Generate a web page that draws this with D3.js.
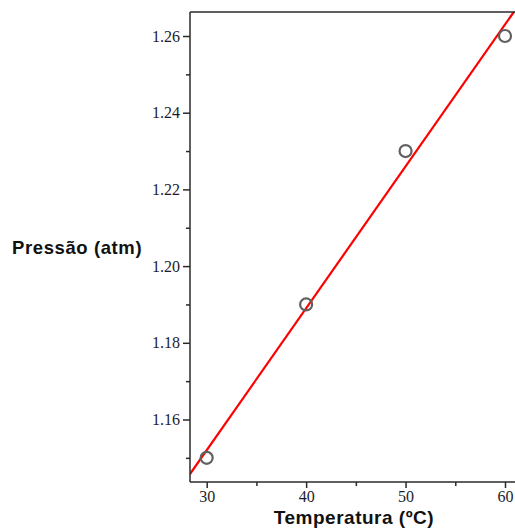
<!DOCTYPE html>
<html>
<head>
<meta charset="utf-8">
<script src="https://cdn.jsdelivr.net/npm/d3@7"></script>
<style>
  html, body { margin: 0; padding: 0; background: #fff; }
  svg { display: block; }
</style>
</head>
<body>
<svg id="chart" width="515" height="530"></svg>
<script>
// Measured temperature / pressure pairs
const temperatures = [30, 40, 50, 60];
const pressures = [1.15, 1.19, 1.23, 1.26];

// Axis ticks
const xMajorTicks = [30, 40, 50, 60];
const xMinorTicks = [35, 45, 55];
const yMajorTicks = [1.16, 1.18, 1.20, 1.22, 1.24, 1.26];
const yMinorTicks = [1.15, 1.17, 1.19, 1.21, 1.23, 1.25];

const xTitle = "Temperatura (ºC)";
const yTitle = "Pressão (atm)";

const svg = d3.select("#chart");

const plot = { left: 190, top: 12, right: 520, bottom: 482 };

const x = d3.scaleLinear().domain([28.32, 61.5]).range([plot.left, plot.left + (61.5 - 28.32) * 9.943]);
const y = d3.scaleLinear().domain([1.1437, 1.26626]).range([plot.bottom, plot.top]);

// Least-squares fit through the measurements
const n = temperatures.length;
const mx = d3.mean(temperatures), my = d3.mean(pressures);
let sxy = 0, sxx = 0;
for (let i = 0; i < n; i++) {
  sxy += (temperatures[i] - mx) * (pressures[i] - my);
  sxx += (temperatures[i] - mx) ** 2;
}
const slope = sxy / sxx;
const intercept = my - slope * mx;

svg.append("clipPath").attr("id", "plot-clip")
  .append("rect")
  .attr("x", plot.left).attr("y", plot.top)
  .attr("width", plot.right - plot.left).attr("height", plot.bottom - plot.top);

// Fitted line
const xs = x.domain();
svg.append("line")
  .attr("clip-path", "url(#plot-clip)")
  .attr("x1", x(xs[0])).attr("y1", y(intercept + slope * xs[0]))
  .attr("x2", x(xs[1])).attr("y2", y(intercept + slope * xs[1]))
  .attr("stroke", "#ff0000")
  .attr("stroke-width", 2.2);

// Data points
svg.append("g")
  .selectAll("circle")
  .data(temperatures.map((t, i) => [t, pressures[i]]))
  .join("circle")
  .attr("cx", d => x(d[0]))
  .attr("cy", d => y(d[1]))
  .attr("r", 6)
  .attr("fill", "none")
  .attr("stroke", "#606060")
  .attr("stroke-width", 2.2);

// Frame: top edge
const frameColor = "#2a2a2a";
svg.append("line")
  .attr("x1", plot.left).attr("x2", plot.right)
  .attr("y1", plot.top).attr("y2", plot.top)
  .attr("stroke", frameColor).attr("stroke-width", 1.5);

// X axis
const xAxis = svg.append("g").attr("transform", `translate(0,${plot.bottom})`);
xAxis.call(d3.axisBottom(x).tickValues(xMajorTicks).tickSize(6).tickSizeOuter(0).tickPadding(3).tickFormat(d3.format("d")));
xAxis.append("g").call(d3.axisBottom(x).tickValues(xMinorTicks).tickSize(4).tickSizeOuter(0).tickFormat(""))
  .select(".domain").remove();
xAxis.select(".domain").attr("d", `M${plot.left},0H${plot.right}`);

// Y axis
const yAxis = svg.append("g").attr("transform", `translate(${plot.left},0)`);
yAxis.call(d3.axisLeft(y).tickValues(yMajorTicks).tickSize(7).tickSizeOuter(0).tickPadding(3).tickFormat(d3.format(".2f")));
yAxis.append("g").call(d3.axisLeft(y).tickValues(yMinorTicks).tickSize(4).tickSizeOuter(0).tickFormat(""))
  .select(".domain").remove();
yAxis.select(".domain").attr("d", `M0,${plot.top}V${plot.bottom}`);

svg.selectAll(".domain, .tick line")
  .attr("stroke", frameColor)
  .attr("stroke-width", 1.5);
svg.selectAll(".tick text")
  .attr("fill", "#1c1c2c")
  .style("font-family", "'Liberation Serif', 'Times New Roman', serif")
  .style("font-size", "16px");

// Axis titles
svg.append("text")
  .attr("x", 354).attr("y", 524)
  .attr("text-anchor", "middle")
  .style("font-family", "'Liberation Sans', Arial, sans-serif")
  .style("font-weight", "bold")
  .style("font-size", "19px")
  .style("letter-spacing", "0.5px")
  .attr("fill", "#111")
  .text(xTitle);

svg.append("text")
  .attr("x", 12).attr("y", 254)
  .style("font-family", "'Liberation Sans', Arial, sans-serif")
  .style("font-weight", "bold")
  .style("font-size", "18.5px")
  .style("letter-spacing", "0.6px")
  .attr("fill", "#111")
  .text(yTitle);
</script>
</body>
</html>
